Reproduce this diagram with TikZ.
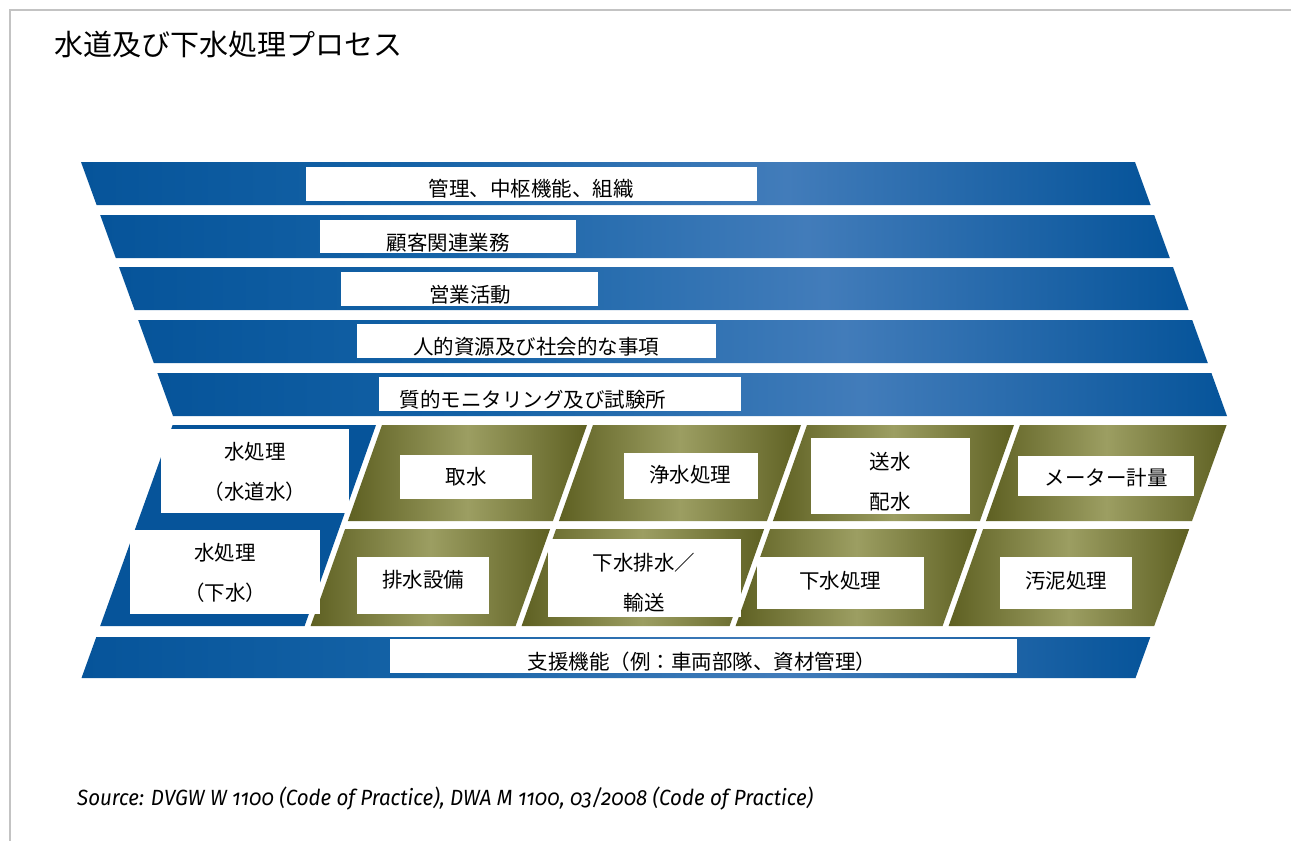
\documentclass[tikz,border=0pt]{standalone}
\usepackage{fontspec}
\usepackage{graphicx}
\newfontfamily\jp{Noto Sans CJK JP}
\newfontfamily\srcfont[Numbers=OldStyle]{Fira Sans}
\definecolor{bdark}{RGB}{6,84,154}
\definecolor{bmid}{RGB}{20,98,166}
\definecolor{blight}{RGB}{66,124,186}
\definecolor{odark}{RGB}{94,96,34}
\definecolor{olight}{RGB}{156,158,98}
\definecolor{framegray}{RGB}{195,195,195}
\pgfdeclarehorizontalshading{bluesh}{100bp}{color(0bp)=(bdark); color(25bp)=(bdark); color(40bp)=(bmid); color(58bp)=(blight); color(75bp)=(bdark); color(100bp)=(bdark)}
\pgfdeclarehorizontalshading{olivesh}{100bp}{color(0bp)=(odark); color(25bp)=(odark); color(50bp)=(olight); color(75bp)=(odark); color(100bp)=(odark)}
\begin{document}
\begin{tikzpicture}[x=1pt,y=-1pt,
  lbl/.style={font=\jp\fontsize{20.5}{40}\selectfont, inner sep=0pt, align=center, text=black},
  band/.style={shading=bluesh},
  cell/.style={shading=olivesh},
  wbox/.style={fill=white}]
\useasboundingbox (0,0) rectangle (1291,841);
\fill[white] (0,0) rectangle (1291,841);
\draw[framegray, line width=1.5pt] (10,841) -- (10,10) -- (1291,10);
% title
\node[font=\jp\fontsize{29}{32}\selectfont, anchor=west, inner sep=0pt] (title) at (54,45) {水道及び下水処理プロセス};
% upper bands
\shade[band] (81,162) -- (1135,162) -- (1150.6,205) -- (96.6,205) -- cycle;
\shade[band] (100.2,215) -- (1154.2,215) -- (1169.8,258) -- (115.8,258) -- cycle;
\shade[band] (119,267) -- (1173,267) -- (1188.6,310) -- (134.6,310) -- cycle;
\shade[band] (138.2,320) -- (1192.2,320) -- (1207.8,363) -- (153.8,363) -- cycle;
\shade[band] (157.4,373) -- (1211.4,373) -- (1227,416) -- (173,416) -- cycle;
% water treatment blue block
\shade[top color=bdark, middle color=blight, bottom color=bdark] (172.6,425) -- (376,425) -- (304.6,626) -- (100.2,626) -- cycle;
% olive cells row 1
\shade[cell] (382,425) -- (587,425) -- (552.9,521) -- (347.9,521) -- cycle;
\shade[cell] (593,425) -- (801,425) -- (766.9,521) -- (558.9,521) -- cycle;
\shade[cell] (807,425) -- (1014,425) -- (979.9,521) -- (772.9,521) -- cycle;
\shade[cell] (1020,425) -- (1226.6,425) -- (1192,521) -- (985.9,521) -- cycle;
% olive cells row 2
\shade[cell] (345.1,529) -- (550.1,529) -- (515.6,626) -- (310.6,626) -- cycle;
\shade[cell] (556.1,529) -- (764.1,529) -- (729.6,626) -- (521.6,626) -- cycle;
\shade[cell] (770.1,529) -- (977.1,529) -- (942.6,626) -- (735.6,626) -- cycle;
\shade[cell] (983.1,529) -- (1189.2,529) -- (1154.2,626) -- (948.6,626) -- cycle;
% support band
\shade[band] (96.3,637) -- (1150.3,637) -- (1135.5,678) -- (81.5,678) -- cycle;
% white boxes
\fill[wbox] (306,167) rectangle (757,201);
\fill[wbox] (320,220) rectangle (576,253);
\fill[wbox] (341,272) rectangle (598,306);
\fill[wbox] (357,324) rectangle (716,358);
\fill[wbox] (379,377) rectangle (741,411);
\fill[wbox] (390,639) rectangle (1017,673);
\fill[wbox] (161,429) rectangle (349,513);
\fill[wbox] (130,530) rectangle (320,614);
\fill[wbox] (400,455) rectangle (532,499);
\fill[wbox] (357,557) rectangle (489,614);
\fill[wbox] (624,453) rectangle (758,499);
\fill[wbox] (811,438) rectangle (970,514);
\fill[wbox] (1018,456) rectangle (1194,496);
\fill[wbox] (548,539) rectangle (741,617);
\fill[wbox] (757,557) rectangle (924,609);
\fill[wbox] (1000,557) rectangle (1132,609);
% labels
\node[lbl] (t1) at (531,189) {管理、中枢機能、組織};
\node[lbl] (t2) at (448,242.5) {顧客関連業務};
\node[lbl] (t3) at (470,295) {営業活動};
\node[lbl] (t4) at (536,347) {人的資源及び社会的な事項};
\node[lbl] (t5) at (533,400) {質的モニタリング及び試験所};
\node[lbl] (wsup) at (255,472) {水処理\\（水道水）};
\node[lbl] (wsew) at (225,573) {水処理\\（下水）};
\node[lbl] (c1) at (466,477) {取水};
\node[lbl] (c2) at (690,475) {浄水処理};
\node[lbl] (c3) at (890,482) {送水\\配水};
\node[lbl] (c4) at (1106,478) {メーター計量};
\node[lbl] (d1) at (423,580) {排水設備};
\node[lbl] (d2) at (644,583) {下水排水／\\輸送};
\node[lbl] (d3) at (840,581) {下水処理};
\node[lbl] (d4) at (1066,581) {汚泥処理};
\node[lbl] (sup) at (702,662) {支援機能（例：車両部隊、資材管理）};
% source
\node[anchor=west, inner sep=0pt, font=\srcfont\itshape\fontsize{22}{24}\selectfont] (src) at (77,799)
  {\resizebox{736pt}{\height}{Source: DVGW W 1100 (Code of Practice), DWA M 1100, 03/2008 (Code of Practice)}};
\end{tikzpicture}
\end{document}
